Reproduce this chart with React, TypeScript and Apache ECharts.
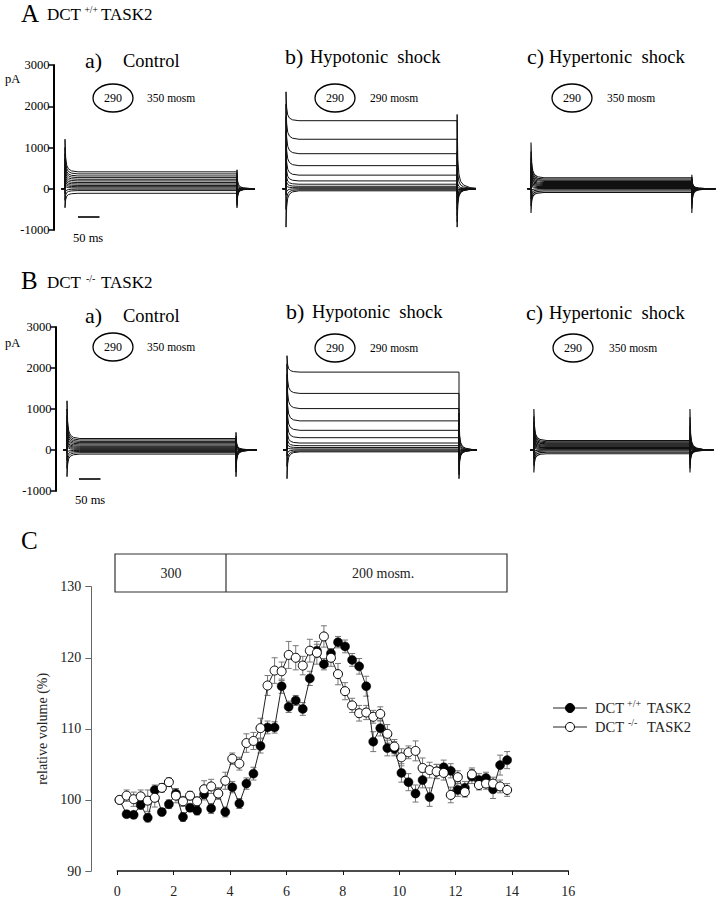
import React, { useEffect, useRef } from "react";
import * as echarts from "echarts";

const SERIF_FONT = "'Liberation Serif', 'Times New Roman', Times, serif";
const SERIF_FAMILY = "Liberation Serif";

// ---------- Panel C data (time in min, relative volume %) ----------
const TIME_MIN = [0.08, 0.33, 0.58, 0.83, 1.08, 1.33, 1.58, 1.83, 2.08, 2.33, 2.58, 2.83, 3.08, 3.33, 3.58, 3.83, 4.08, 4.33, 4.58, 4.83, 5.08, 5.33, 5.58, 5.83, 6.08, 6.33, 6.58, 6.83, 7.08, 7.33, 7.58, 7.83, 8.08, 8.33, 8.58, 8.83, 9.08, 9.33, 9.58, 9.83, 10.08, 10.33, 10.58, 10.83, 11.08, 11.33, 11.58, 11.83, 12.08, 12.33, 12.58, 12.83, 13.08, 13.33, 13.58, 13.83];
const WT_VOLUME = [100.0, 98.0, 97.9, 99.3, 97.5, 101.4, 98.3, 99.4, 100.9, 97.6, 98.9, 98.5, 100.8, 98.8, 100.9, 98.3, 101.8, 99.5, 102.3, 103.7, 107.6, 110.2, 110.2, 116.0, 113.1, 114.0, 112.8, 117.1, 121.0, 119.1, 120.6, 122.2, 121.6, 119.7, 118.8, 116.0, 108.2, 110.1, 107.3, 107.2, 103.8, 102.5, 100.9, 102.8, 100.4, 104.0, 104.6, 104.1, 101.4, 101.7, 103.3, 102.8, 103.1, 101.5, 104.9, 105.6];
const WT_SEM = [0, 0.5, 0.5, 0.6, 0.6, 0.7, 0.5, 0.6, 0.7, 0.6, 0.5, 0.6, 0.8, 0.7, 0.8, 0.7, 0.8, 0.7, 0.8, 0.9, 1.0, 0.9, 0.8, 1.0, 0.8, 0.7, 0.9, 1.0, 0.9, 0.8, 0.7, 0.8, 0.9, 0.9, 1.1, 1.4, 1.4, 1.1, 1.1, 1.0, 1.3, 1.2, 1.2, 1.1, 1.3, 1.0, 1.0, 1.0, 0.9, 0.9, 1.0, 0.9, 0.8, 1.3, 1.4, 1.2];
const KO_VOLUME = [100.0, 100.6, 100.1, 100.5, 99.9, 100.3, 101.7, 102.5, 100.6, 99.8, 100.6, 99.8, 101.5, 101.9, 100.9, 102.7, 105.8, 105.1, 108.0, 108.3, 110.1, 116.1, 118.2, 118.1, 120.4, 120.0, 118.9, 121.0, 120.7, 123.0, 120.0, 117.7, 115.3, 113.3, 112.2, 112.3, 111.7, 112.1, 109.3, 107.5, 106.0, 106.7, 106.9, 104.5, 104.2, 104.0, 103.8, 100.7, 103.2, 101.1, 103.6, 102.1, 102.3, 102.3, 101.9, 101.4];
const KO_SEM = [0, 0.8, 1.0, 0.9, 1.5, 1.3, 0.6, 0.6, 1.0, 0.7, 0.6, 0.6, 1.2, 1.0, 0.8, 1.2, 0.8, 0.9, 1.3, 1.2, 1.4, 1.4, 1.8, 1.3, 1.9, 1.7, 1.3, 1.6, 1.6, 1.5, 1.2, 1.5, 1.2, 1.0, 1.1, 1.0, 0.9, 1.0, 1.3, 1.0, 1.2, 0.9, 1.4, 1.4, 1.1, 1.0, 1.0, 1.1, 0.9, 0.7, 0.9, 0.7, 0.8, 0.9, 0.9, 0.9];
const C_X_TICKS = [0, 16, 2];
const C_Y_TICKS = [90, 130, 10];

// ---------- Current traces (pA): steady level, onset peak, offset peak per trace ----------
const AA_LEVELS = [410, 360, 310, 270, 230, 190, 150, 115, 80, 50, 20, -10, -45, -110];
const AA_ON = [1200, 1000, 850, 720, 600, 500, 420, 340, 270, 190, 110, -120, -280, -460];
const AA_OFF = [-460, -400, -340, -290, -240, -190, -140, -100, -60, -30, 60, 150, 260, 460];

const AB_LEVELS = [1650, 1200, 850, 560, 330, 190, 110, 60, 25, 0, -25, -50];
const AB_ON = [2350, 2050, 1750, 1400, 1050, 750, 480, 280, 120, -150, -500, -930];
const AB_OFF = [-930, -800, -650, -500, -350, -220, -120, -60, 80, 300, 900, 1800];

const AC_LEVELS = [265, 235, 205, 180, 155, 130, 105, 80, 55, 30, 5, -25, -55, -90];
const AC_ON = [1120, 900, 750, 620, 500, 400, 320, 240, 170, 100, -100, -250, -420, -590];
const AC_OFF = [-590, -480, -380, -300, -220, -160, -100, -50, 40, 90, 150, 220, 280, 340];

const BA_LEVELS = [280, 245, 210, 180, 150, 120, 90, 65, 40, 15, -10, -35, -65, -100];
const BA_ON = [1200, 1000, 850, 700, 580, 470, 380, 300, 220, 140, -80, -250, -450, -650];
const BA_OFF = [-650, -540, -440, -350, -270, -200, -140, -80, 60, 120, 190, 260, 340, 430];

const BB_LEVELS = [1900, 1380, 1010, 710, 480, 300, 170, 105, 60, 25, 0, -25, -45];
const BB_ON = [2300, 2100, 1850, 1550, 1250, 950, 650, 400, 220, 80, -150, -400, -700];
const BB_OFF = [-700, -600, -500, -400, -300, -200, -120, -60, 70, 200, 400, 650, 900];

const BC_LEVELS = [230, 200, 175, 150, 125, 100, 80, 60, 40, 20, 0, -25, -55, -90];
const BC_ON = [1000, 820, 680, 560, 460, 370, 290, 220, 150, 80, -80, -220, -380, -550];
const BC_OFF = [-550, -450, -360, -280, -210, -150, -100, 60, 150, 280, 420, 600, 800, 1000];

// pulse durations (ms) and transient decay shape
const PULSE_END_MS = [400, 398, 374, 393, 400, 367];
const DECAY_MS = [0, 1.5, 4, 8, 15, 30];
const DECAY_FRAC = [1, 0.45, 0.2, 0.09, 0.03, 0];
const TAIL_MS = [0, 1.5, 4, 8, 15, 30, 55];
const TAIL_FRAC = [1, 0.4, 0.2, 0.1, 0.05, 0.015, 0];
const PA_TICKS = [-1000, 3000, 1000];

// ---------- layout ----------
const PX_PER_MS = 0.43;
const X_MIN = -27;
const X_MAX = 440;
const ROW_TOP = [65, 327];
const ROW_H = [165, 164];

const PANELS = [
  { row: 0, onset: 65, levels: AA_LEVELS, on: AA_ON, off: AA_OFF, axis: true, lw: 1.0 },
  { row: 0, onset: 286, levels: AB_LEVELS, on: AB_ON, off: AB_OFF, axis: false, lw: 1.0 },
  { row: 0, onset: 531, levels: AC_LEVELS, on: AC_ON, off: AC_OFF, axis: false, lw: 1.1 },
  { row: 1, onset: 67, levels: BA_LEVELS, on: BA_ON, off: BA_OFF, axis: true, lw: 1.0 },
  { row: 1, onset: 287, levels: BB_LEVELS, on: BB_ON, off: BB_OFF, axis: false, lw: 1.0 },
  { row: 1, onset: 534, levels: BC_LEVELS, on: BC_ON, off: BC_OFF, axis: false, lw: 1.1 },
];

function buildTrace(level: number, onPeak: number, offPeak: number, end: number) {
  const pts: number[][] = [[-8, 0], [0, 0]];
  DECAY_MS.forEach((t, i) => pts.push([t, level + (onPeak - level) * DECAY_FRAC[i]]));
  pts.push([end, level]);
  TAIL_MS.forEach((t, i) => pts.push([end + t, offPeak * TAIL_FRAC[i]]));
  return pts;
}

function txt(text: string, x: number, y: number, size: number, align = "left", color = "#000") {
  return {
    type: "text",
    x,
    y,
    silent: true,
    style: {
      text,
      fill: color,
      font: `${size}px ${SERIF_FONT}`,
      textAlign: align,
      align,
      textVerticalAlign: "middle",
      verticalAlign: "middle",
    },
  };
}
function ellipse(cx: number, cy: number) {
  return {
    type: "ellipse",
    silent: true,
    shape: { cx, cy, rx: 20, ry: 14 },
    style: { fill: "none", stroke: "#000", lineWidth: 1.3 },
  };
}
function line(x1: number, y1: number, x2: number, y2: number, w = 1, c = "#000") {
  return { type: "line", silent: true, shape: { x1, y1, x2, y2 }, style: { stroke: c, lineWidth: w } };
}

function buildOption() {
  const grids: any[] = [];
  const xAxes: any[] = [];
  const yAxes: any[] = [];
  const series: any[] = [];
  const width = (X_MAX - X_MIN) * PX_PER_MS;

  PANELS.forEach((p, i) => {
    grids.push({ left: p.onset + X_MIN * PX_PER_MS, top: ROW_TOP[p.row], width, height: ROW_H[p.row] });
    xAxes.push({ gridIndex: i, type: "value", min: X_MIN, max: X_MAX, show: false });
    yAxes.push({
      gridIndex: i,
      type: "value",
      min: PA_TICKS[0],
      max: PA_TICKS[1],
      interval: PA_TICKS[2],
      show: p.axis,
      axisLine: { show: true, onZero: false, lineStyle: { color: "#000", width: 2 } },
      axisTick: { show: true, length: 5, lineStyle: { color: "#000", width: 1.5 } },
      axisLabel: {
        color: "#000",
        fontFamily: SERIF_FAMILY,
        fontSize: 12.5,
        margin: 4,
        formatter: (v: number) => String(v),
      },
      splitLine: { show: false },
    });
    p.levels.forEach((lv, k) => {
      series.push({
        type: "line",
        xAxisIndex: i,
        yAxisIndex: i,
        data: buildTrace(lv, p.on[k], p.off[k], PULSE_END_MS[i]),
        symbol: "none",
        silent: true,
        lineStyle: { color: "#111", width: p.lw },
        z: 2,
      });
    });
  });

  // Panel C
  const ci = PANELS.length;
  grids.push({ left: 117.3, top: 586.7, width: 451, height: 284.3 });
  xAxes.push({
    gridIndex: ci,
    type: "value",
    min: C_X_TICKS[0],
    max: C_X_TICKS[1],
    interval: C_X_TICKS[2],
    axisLine: { show: true, onZero: false, lineStyle: { color: "#111", width: 1.5 } },
    axisTick: { show: true, length: 4, lineStyle: { color: "#111" } },
    axisLabel: { color: "#222", fontFamily: SERIF_FAMILY, fontSize: 14, margin: 13 },
    splitLine: { show: false },
  });
  yAxes.push({
    gridIndex: ci,
    type: "value",
    min: C_Y_TICKS[0],
    max: C_Y_TICKS[1],
    interval: C_Y_TICKS[2],
    offset: 26,
    name: "relative volume (%)",
    nameLocation: "middle",
    nameGap: 42,
    nameTextStyle: { color: "#222", fontFamily: SERIF_FAMILY, fontSize: 14 },
    axisLine: { show: true, onZero: false, lineStyle: { color: "#666", width: 1 } },
    axisTick: { show: true, length: 6, lineStyle: { color: "#666" } },
    axisLabel: { color: "#222", fontFamily: SERIF_FAMILY, fontSize: 14, margin: 10 },
    splitLine: { show: false },
  });

  const errSeries = (vals: number[], sems: number[]) => ({
    type: "custom",
    xAxisIndex: ci,
    yAxisIndex: ci,
    silent: true,
    z: 1,
    data: TIME_MIN.map((t, i) => [t, vals[i] - sems[i], vals[i] + sems[i]]),
    encode: { x: 0, y: [1, 2] },
    renderItem: (params: any, api: any) => {
      const x = api.value(0);
      const top = api.coord([x, api.value(2)]);
      const bot = api.coord([x, api.value(1)]);
      const w = 3;
      const st = { stroke: "#777", lineWidth: 1 };
      return {
        type: "group",
        children: [
          { type: "line", shape: { x1: top[0], y1: top[1], x2: bot[0], y2: bot[1] }, style: st },
          { type: "line", shape: { x1: top[0] - w, y1: top[1], x2: top[0] + w, y2: top[1] }, style: st },
          { type: "line", shape: { x1: bot[0] - w, y1: bot[1], x2: bot[0] + w, y2: bot[1] }, style: st },
        ],
      };
    },
  });
  series.push(errSeries(WT_VOLUME, WT_SEM));
  series.push(errSeries(KO_VOLUME, KO_SEM));
  series.push({
    type: "line",
    name: "DCT +/+ TASK2",
    xAxisIndex: ci,
    yAxisIndex: ci,
    data: TIME_MIN.map((t, i) => [t, WT_VOLUME[i]]),
    symbol: "circle",
    symbolSize: 9,
    itemStyle: { color: "#000", borderColor: "#000", borderWidth: 0.5 },
    lineStyle: { color: "#222", width: 1 },
    z: 3,
  });
  series.push({
    type: "line",
    name: "DCT -/- TASK2",
    xAxisIndex: ci,
    yAxisIndex: ci,
    data: TIME_MIN.map((t, i) => [t, KO_VOLUME[i]]),
    symbol: "circle",
    symbolSize: 9,
    itemStyle: { color: "#fff", borderColor: "#000", borderWidth: 1 },
    lineStyle: { color: "#222", width: 1 },
    z: 4,
  });

  const g: any[] = [];
  // Row titles
  g.push(txt("A", 21, 13, 25));
  g.push(txt("DCT", 47, 14.5, 17));
  g.push(txt("+/+", 84.5, 10, 9.5));
  g.push(txt("TASK2", 101, 14.5, 17));
  g.push(txt("B", 21, 280.5, 25));
  g.push(txt("DCT", 47, 282, 17));
  g.push(txt("-/-", 86, 278, 10));
  g.push(txt("TASK2", 101, 282, 17));
  g.push(txt("C", 21, 540, 25));

  // panel subtitles
  const sub = [
    { lx: 85, x: 123, y: 61, t: "Control" },
    { lx: 285, x: 310, y: 57, t: "Hypotonic  shock" },
    { lx: 527, x: 549, y: 56.6, t: "Hypertonic  shock" },
    { lx: 85, x: 123, y: 316, t: "Control" },
    { lx: 286, x: 312, y: 312, t: "Hypotonic  shock" },
    { lx: 526, x: 549, y: 313, t: "Hypertonic  shock" },
  ];
  const letters = ["a)", "b)", "c)", "a)", "b)", "c)"];
  sub.forEach((s, i) => {
    g.push(txt(letters[i], s.lx, s.y - 0.5, 22));
    g.push(txt(s.t, s.x, s.y, 18.5));
  });

  // osmolarity ellipses
  const ell = [
    { cx: 113, cy: 98, mx: 147, m: "350 mosm" },
    { cx: 335, cy: 98, mx: 370, m: "290 mosm" },
    { cx: 572, cy: 98, mx: 607, m: "350 mosm" },
    { cx: 113, cy: 347, mx: 147, m: "350 mosm" },
    { cx: 335, cy: 348, mx: 370, m: "290 mosm" },
    { cx: 573, cy: 348, mx: 609, m: "350 mosm" },
  ];
  ell.forEach((e) => {
    g.push(ellipse(e.cx, e.cy));
    g.push(txt("290", e.cx, e.cy, 12, "center"));
    g.push(txt(e.m, e.mx, e.cy, 11.5));
  });

  // pA labels and scale bars
  g.push(txt("pA", 5, 79, 12.5));
  g.push(txt("pA", 5, 343, 12.5));
  const bar = 50 * PX_PER_MS;
  g.push(line(78, 217, 78 + bar, 217, 1.6));
  g.push(txt("50 ms", 73, 238, 12.5));
  g.push(line(79, 479, 79 + bar, 479, 1.6));
  g.push(txt("50 ms", 75, 500, 12.5));

  // osmolarity box in panel C
  g.push({
    type: "rect",
    silent: true,
    shape: { x: 115, y: 554, width: 392, height: 38 },
    style: { fill: "none", stroke: "#333", lineWidth: 1.2 },
  });
  g.push(line(226, 554, 226, 592, 1.2, "#333"));
  g.push(txt("300", 171, 573, 14, "center", "#222"));
  g.push(txt("200 mosm.", 352, 573, 14, "left", "#222"));

  // legend
  g.push(line(553, 708, 587, 708, 1, "#222"));
  g.push({ type: "circle", silent: true, shape: { cx: 570, cy: 708, r: 4.5 }, style: { fill: "#000", stroke: "#000" } });
  g.push(txt("DCT", 595, 708, 14.5, "left", "#222"));
  g.push(txt("+/+", 627, 703.5, 10, "left", "#222"));
  g.push(txt("TASK2", 647, 708, 14.5, "left", "#222"));
  g.push(line(553, 727, 587, 727, 1, "#222"));
  g.push({ type: "circle", silent: true, shape: { cx: 570, cy: 727, r: 4.5 }, style: { fill: "#fff", stroke: "#000", lineWidth: 1 } });
  g.push(txt("DCT", 595, 727, 14.5, "left", "#222"));
  g.push(txt("-/-", 628, 722.5, 10, "left", "#222"));
  g.push(txt("TASK2", 647, 727, 14.5, "left", "#222"));

  return {
    animation: false,
    backgroundColor: "#fff",
    textStyle: { fontFamily: SERIF_FAMILY },
    grid: grids,
    xAxis: xAxes,
    yAxis: yAxes,
    series,
    graphic: { elements: g },
  };
}

export default function App() {
  const ref = useRef<HTMLDivElement>(null);
  useEffect(() => {
    const chart = echarts.init(ref.current as HTMLDivElement, null, { renderer: "svg" });
    chart.setOption(buildOption() as any);
    return () => chart.dispose();
  }, []);
  return (
    <div
      ref={ref}
      style={{ position: "absolute", left: 0, top: 0, width: 721, height: 899, background: "#fff" }}
    />
  );
}
